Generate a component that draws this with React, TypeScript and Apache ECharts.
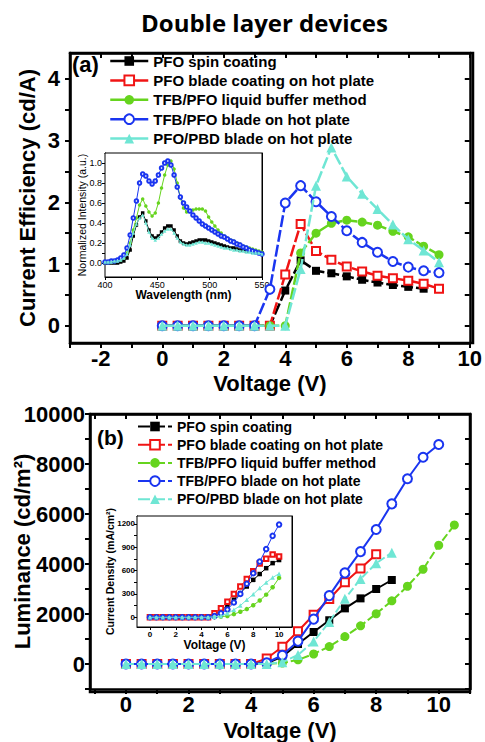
import React, { useEffect, useRef } from "react";
import * as echarts from "echarts";

const FONT = "'Liberation Sans', Arial, sans-serif";

const SERIES_NAMES = [
  "PFO spin coating",
  "PFO blade coating on hot plate",
  "TFB/PFO liquid buffer method",
  "TFB/PFO blade on hot plate",
  "PFO/PBD blade on hot plate",
];
const COLORS = ["#000000", "#f01414", "#66d41e", "#1a35f0", "#6fe6d4"];
const SYMBOLS = ["rect", "emptyRect", "circle", "emptyCircle", "triangle"];

// (a) current efficiency vs voltage
const voltageA = [0, 0.5, 1, 1.5, 2, 2.5, 3, 3.5, 4, 4.5, 5, 5.5, 6, 6.5, 7, 7.5, 8, 8.5, 9];
const effBlack = [0, 0, 0, 0, 0, 0, 0, 0, 0.57, 1.06, 0.89, 0.85, 0.8, 0.745, 0.7, 0.66, 0.63, 0.6];
const effRed = [0, 0, 0, 0, 0, 0, 0, 0, 0.83, 1.65, 1.21, 1.07, 0.96, 0.88, 0.81, 0.77, 0.73, 0.68, 0.6];
const effGreen = [0, 0, 0, 0, 0, 0, 0, 0, 0, 1.18, 1.5, 1.66, 1.71, 1.68, 1.63, 1.53, 1.44, 1.29, 1.15];
const effBlue = [0, 0, 0, 0, 0, 0, 0, 0.59, 1.99, 2.27, 2.01, 1.77, 1.54, 1.35, 1.19, 1.04, 0.95, 0.89, 0.86];
const effCyan = [0, 0, 0, 0, 0, 0, 0, 0, 0, 0.92, 2.27, 2.89, 2.42, 2.14, 1.89, 1.64, 1.4, 1.22, 1.03];

// (a) inset: normalized EL spectra
const wavelength = [
  400, 403, 406, 409, 412, 415, 418, 421, 424, 427, 430, 433, 436, 439, 442, 445, 448, 451, 454, 457,
  460, 463, 466, 469, 472, 475, 478, 481, 484, 487, 490, 493, 496, 499, 502, 505, 508, 511, 514, 517,
  520, 523, 526, 529, 532, 535, 538, 541, 544, 547, 550,
];
const plBlack = [
  0, 0, 0, 0, 0, 0.01, 0.02, 0.05, 0.13, 0.27, 0.38, 0.46, 0.5, 0.42, 0.33, 0.27, 0.25, 0.27, 0.31, 0.35,
  0.37, 0.37, 0.33, 0.27, 0.22, 0.2, 0.19, 0.2, 0.21, 0.22, 0.23, 0.23, 0.23, 0.22, 0.21, 0.2, 0.19, 0.18, 0.17, 0.16,
  0.15, 0.15, 0.14, 0.13, 0.13, 0.12, 0.12, 0.11, 0.11, 0.1, 0.1,
];
const plGreen = [
  0, 0, 0.01, 0.01, 0.02, 0.03, 0.05, 0.1, 0.2, 0.33, 0.45, 0.58, 0.64, 0.57, 0.51, 0.47, 0.5, 0.6, 0.75, 0.88,
  0.98, 1.02, 0.94, 0.8, 0.65, 0.55, 0.51, 0.52, 0.53, 0.54, 0.54, 0.54, 0.52, 0.46, 0.41, 0.37, 0.33, 0.3, 0.27, 0.25,
  0.23, 0.22, 0.2, 0.19, 0.17, 0.16, 0.15, 0.14, 0.13, 0.12, 0.11,
];
const plBlue = [
  0.01, 0.01, 0.02, 0.02, 0.03, 0.05, 0.08, 0.15, 0.28, 0.45, 0.62, 0.8, 0.89, 0.87, 0.82, 0.79, 0.82, 0.88, 0.95, 1.0,
  1.02, 0.98, 0.88, 0.76, 0.66, 0.6, 0.56, 0.52, 0.48, 0.45, 0.42, 0.39, 0.37, 0.35, 0.33, 0.31, 0.29, 0.27, 0.26, 0.24,
  0.22, 0.21, 0.19, 0.18, 0.16, 0.15, 0.13, 0.12, 0.11, 0.1, 0.09,
];
const plCyan = [
  0.01, 0.01, 0.01, 0.02, 0.02, 0.03, 0.05, 0.09, 0.18, 0.3, 0.39, 0.45, 0.48, 0.4, 0.31, 0.25, 0.23, 0.25, 0.29, 0.32,
  0.34, 0.34, 0.3, 0.25, 0.21, 0.19, 0.18, 0.18, 0.19, 0.2, 0.21, 0.21, 0.2, 0.2, 0.19, 0.18, 0.17, 0.16, 0.15, 0.15,
  0.14, 0.13, 0.13, 0.12, 0.12, 0.11, 0.11, 0.1, 0.1, 0.1, 0.09,
];

// (b) luminance vs voltage
const voltageB = [0, 0.5, 1, 1.5, 2, 2.5, 3, 3.5, 4, 4.5, 5, 5.5, 6, 6.5, 7, 7.5, 8, 8.5, 9, 9.5, 10, 10.5];
const lumBlack = [0, 0, 0, 0, 0, 0, 0, 0, 0, 30, 300, 800, 1280, 1750, 2225, 2625, 3000, 3360];
const lumRed = [0, 0, 0, 0, 0, 0, 0, 0, 0, 220, 690, 1310, 1970, 2600, 3270, 3820, 4390];
const lumGreen = [0, 0, 0, 0, 0, 0, 0, 0, 0, 0, 40, 165, 400, 695, 1095, 1525, 2010, 2525, 3110, 3790, 4750, 5560];
const lumBlue = [0, 0, 0, 0, 0, 0, 0, 0, 0, 50, 350, 915, 1795, 2735, 3645, 4495, 5380, 6405, 7410, 8270, 8780];
const lumCyan = [0, 0, 0, 0, 0, 0, 0, 0, 0, 0, 70, 365, 900, 1680, 2610, 3400, 4030, 4455];

// (b) inset: current density vs voltage
const voltageC = [0, 0.5, 1, 1.5, 2, 2.5, 3, 3.5, 4, 4.5, 5, 5.5, 6, 6.5, 7, 7.5, 8, 8.5, 9, 9.5, 10];
const jBlack = [0, 0, 0, 0, 0, 0, 0, 0, 0, 0, 30, 85, 150, 225, 310, 395, 480, 555, 630, 695, 735];
const jRed = [0, 0, 0, 0, 0, 0, 0, 0, 0, 0, 50, 115, 200, 300, 395, 490, 590, 690, 750, 805, 780];
const jGreen = [0, 0, 0, 0, 0, 0, 0, 0, 0, 0, 2, 8, 17, 40, 70, 105, 155, 215, 290, 385, 505];
const jBlue = [0, 0, 0, 0, 0, 0, 0, 0, 0, 0, 15, 50, 100, 190, 300, 430, 565, 715, 875, 1045, 1190];
const jCyan = [0, 0, 0, 0, 0, 0, 0, 0, 0, 0, 5, 17, 50, 95, 150, 225, 295, 375, 445, 510, 560];

function pairs(xs: number[], ys: number[]) {
  return ys.map((y, i) => [xs[i], y]);
}
function steps(a: number, b: number, s: number) {
  const r: number[] = [];
  for (let v = a; v <= b + 1e-9; v += s) r.push(+v.toFixed(4));
  return r;
}

type AxOpt = {
  grid: number;
  pos: string;
  min: number;
  max: number;
  ticks: number[];
  labels?: number[];
  lineW: number;
  tickLen: number;
  tickW: number;
  inside?: boolean;
  font?: number;
  weight?: string;
  margin?: number;
  fmt?: (v: number) => string;
  name?: string;
  nameGap?: number;
  nameFont?: number;
  nameWeight?: string;
};

function mkAxis(o: AxOpt) {
  const ax: any = {
    type: "value",
    gridIndex: o.grid,
    position: o.pos,
    min: o.min,
    max: o.max,
    axisLine: { show: true, onZero: false, lineStyle: { color: "#000", width: o.lineW } },
    splitLine: { show: false },
    axisTick: {
      show: true,
      inside: !!o.inside,
      length: o.tickLen,
      lineStyle: { color: "#000", width: o.tickW },
      customValues: o.ticks,
    },
    axisLabel: o.labels
      ? {
          show: true,
          customValues: o.labels,
          margin: o.margin,
          fontFamily: FONT,
          fontSize: o.font,
          fontWeight: o.weight || "bold",
          color: "#000",
          formatter: o.fmt ? o.fmt : (v: number) => String(v),
        }
      : { show: false },
  };
  if (o.name) {
    ax.name = o.name;
    ax.nameLocation = "middle";
    ax.nameGap = o.nameGap;
    ax.nameMoveOverlap = false;
    ax.nameTextStyle = {
      fontFamily: FONT,
      fontSize: o.nameFont,
      fontWeight: o.nameWeight || "bold",
      color: "#000",
    };
  }
  return ax;
}

function mainSeries(
  idx: number,
  xs: number[],
  ys: number[],
  axisIndex: number,
  sizes: number[],
  width: number,
  dash: any
) {
  return {
    type: "line",
    name: SERIES_NAMES[idx],
    xAxisIndex: axisIndex,
    yAxisIndex: axisIndex,
    data: pairs(xs, ys),
    symbol: SYMBOLS[idx],
    symbolSize: sizes[idx],
    lineStyle: { color: COLORS[idx], width, type: dash },
    itemStyle: { color: COLORS[idx], borderWidth: 1.5 },
    z: 3 + idx,
  };
}

function insetSeries(idx: number, xs: number[], ys: number[], axisIndex: number, size: number) {
  return {
    type: "line",
    name: SERIES_NAMES[idx] + " (inset)",
    xAxisIndex: axisIndex,
    yAxisIndex: axisIndex,
    data: pairs(xs, ys),
    symbol: SYMBOLS[idx],
    symbolSize: size,
    lineStyle: { color: COLORS[idx], width: 1 },
    itemStyle: { color: COLORS[idx], borderWidth: 1 },
    z: 3 + idx,
  };
}

export default function App() {
  const ref = useRef<HTMLDivElement>(null);
  useEffect(() => {
    if (!ref.current) return;
    const chart = echarts.init(ref.current, null, { renderer: "svg" });

    const grids = [
      { left: 70, top: 53, width: 403, height: 290 },
      { left: 105, top: 153, width: 157, height: 124 },
      { left: 90, top: 414, width: 380, height: 278 },
      { left: 137, top: 516, width: 155, height: 111 },
    ];

    const M = { lineW: 2.5, tickLen: 5, tickW: 2 };
    const S = { lineW: 1, tickLen: 3, tickW: 1 };

    const xAxis = [
      mkAxis({
        grid: 0, pos: "bottom", min: -3, max: 10, ticks: steps(-3, 10, 1), labels: steps(-2, 10, 2),
        ...M, font: 22, margin: 4, name: "Voltage (V)", nameGap: 29, nameFont: 22,
      }),
      mkAxis({
        grid: 1, pos: "bottom", min: 400, max: 550, ticks: steps(400, 550, 25), labels: steps(400, 550, 50),
        ...S, font: 9, weight: "normal", margin: 3, name: "Wavelength (nm)", nameGap: 12, nameFont: 12,
      }),
      mkAxis({
        grid: 2, pos: "bottom", min: -1.15, max: 11, ticks: steps(-1, 11, 1), labels: steps(0, 10, 2),
        ...M, font: 22, margin: 4, name: "Voltage (V)", nameGap: 30, nameFont: 22,
      }),
      mkAxis({
        grid: 3, pos: "bottom", min: -1, max: 11, ticks: steps(0, 10, 1), labels: steps(0, 10, 2),
        ...S, font: 8, margin: 3, name: "Voltage (V)", nameGap: 12, nameFont: 12,
      }),
      mkAxis({ grid: 0, pos: "top", min: -3, max: 10, ticks: steps(-3, 10, 1), ...M, inside: true }),
      mkAxis({ grid: 1, pos: "top", min: 400, max: 550, ticks: steps(400, 550, 25), ...S, inside: true }),
      mkAxis({ grid: 2, pos: "top", min: -1.15, max: 11, ticks: steps(-1, 11, 1), ...M, inside: true }),
      mkAxis({ grid: 3, pos: "top", min: -1, max: 11, ticks: steps(0, 10, 1), ...S, inside: true }),
    ];

    const yAxis = [
      mkAxis({
        grid: 0, pos: "left", min: -0.28, max: 4.42, ticks: steps(0, 4, 0.5), labels: steps(0, 4, 1),
        ...M, font: 22, margin: 10, name: "Current Efficiency (cd/A)", nameGap: 32, nameFont: 22,
      }),
      mkAxis({
        grid: 1, pos: "left", min: -0.14, max: 1.1, ticks: steps(0, 1, 0.1), labels: steps(0, 1, 0.2),
        ...S, font: 9, weight: "normal", margin: 3, fmt: (v: number) => v.toFixed(1),
        name: "Normalized Intensity (a.u.)", nameGap: 18, nameFont: 10.5, nameWeight: "normal",
      }),
      mkAxis({
        grid: 2, pos: "left", min: -1000, max: 10000, ticks: steps(-1000, 10000, 1000), labels: steps(0, 10000, 2000),
        ...M, font: 22, margin: 5, name: "Luminance (cd/m²)", nameGap: 57, nameFont: 22,
      }),
      mkAxis({
        grid: 3, pos: "left", min: -125, max: 1300, ticks: steps(0, 1200, 150), labels: steps(0, 1200, 300),
        ...S, font: 8, margin: 2, name: "Current Density (mA/cm²)", nameGap: 22, nameFont: 10.5,
      }),
      mkAxis({ grid: 0, pos: "right", min: -0.28, max: 4.42, ticks: steps(0, 4, 0.5), ...M, inside: true }),
      mkAxis({ grid: 1, pos: "right", min: -0.14, max: 1.1, ticks: steps(0, 1, 0.1), ...S, inside: true }),
      mkAxis({ grid: 2, pos: "right", min: -1000, max: 10000, ticks: steps(-1000, 10000, 1000), ...M, inside: true }),
      mkAxis({ grid: 3, pos: "right", min: -125, max: 1300, ticks: steps(0, 1200, 150), ...S, inside: true }),
    ];

    const effs = [effBlack, effRed, effGreen, effBlue, effCyan];
    const lums = [lumBlack, lumRed, lumGreen, lumBlue, lumCyan];
    const pls: [number, number[]][] = [
      [0, plBlack],
      [2, plGreen],
      [3, plBlue],
      [4, plCyan],
    ];
    const js = [jBlack, jRed, jGreen, jBlue, jCyan];

    const series: any[] = [];
    effs.forEach((ys, i) => series.push(mainSeries(i, voltageA, ys, 0, [8, 8, 9, 9, 10], 2.5, [12, 3])));
    lums.forEach((ys, i) =>
      series.push(mainSeries(i, voltageB, ys, 2, [8, 8, 9, 9, 10], 2, i === 2 || i === 4 ? [8, 3] : "solid"))
    );
    pls.forEach(([i, ys]) => series.push(insetSeries(i, wavelength, ys, 1, 3.5)));
    js.forEach((ys, i) => series.push(insetSeries(i, voltageC, ys, 3, 4.5)));

    const legendText = (size: number, lh: number) => ({
      fontFamily: FONT,
      fontWeight: "bold",
      fontSize: size,
      lineHeight: lh,
      color: "#000",
    });

    const frames = grids.map((g, i) => ({
      type: "rect",
      z: 1,
      silent: true,
      shape: { x: g.left, y: g.top, width: g.width, height: g.height },
      style: {
        fill: i % 2 === 1 ? "#fff" : "none",
        stroke: "#000",
        lineWidth: i % 2 === 1 ? 1 : 2.5,
      },
    }));

    const option: any = {
      animation: false,
      backgroundColor: "#fff",
      title: {
        text: "Double layer devices",
        left: 136,
        top: 5,
        textStyle: { fontFamily: "Open Sans", fontWeight: "bold", fontSize: 24, color: "#000" },
      },
      grid: grids,
      xAxis,
      yAxis,
      legend: [
        {
          data: SERIES_NAMES,
          orient: "vertical",
          left: 104,
          top: 48,
          itemWidth: 38,
          itemHeight: 12,
          itemGap: 3.4,
          selectedMode: false,
          lineStyle: { type: "solid", width: 2.5 },
          textStyle: legendText(15, 16),
        },
        {
          data: SERIES_NAMES,
          orient: "vertical",
          left: 132,
          top: 414,
          itemWidth: 34,
          itemHeight: 12,
          itemGap: 3.2,
          selectedMode: false,
          lineStyle: { width: 2 },
          textStyle: legendText(14, 15),
        },
      ],
      graphic: [
        ...frames,
        {
          type: "text",
          left: 72,
          top: 53,
          style: { text: "(a)", font: `bold 22px ${FONT}`, fill: "#000" },
        },
        {
          type: "text",
          left: 97,
          top: 427,
          style: { text: "(b)", font: `bold 21px ${FONT}`, fill: "#000" },
        },
      ],
      series,
    };
    chart.setOption(option);
    return () => chart.dispose();
  }, []);
  return (
    <div
      ref={ref}
      style={{ position: "fixed", left: 0, top: 0, width: 485, height: 742, background: "#fff" }}
    />
  );
}
